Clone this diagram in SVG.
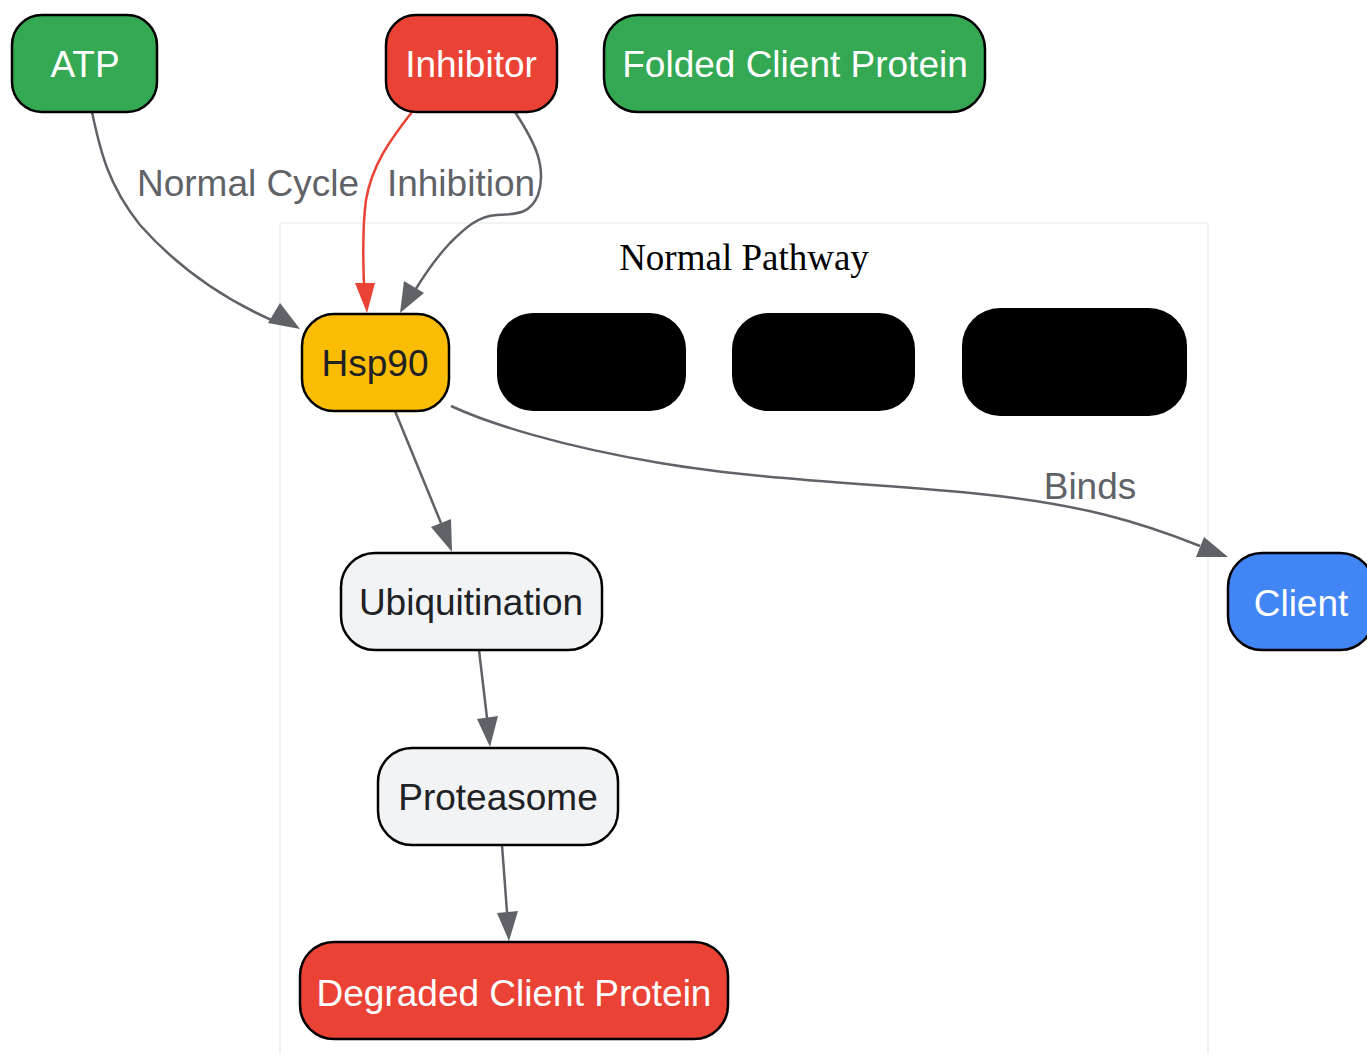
<svg xmlns="http://www.w3.org/2000/svg" width="1367" height="1053" viewBox="0 0 1367 1053">
<style>
.n{stroke:#000;stroke-width:2.5}
.t{font-family:"Liberation Sans",Arial,sans-serif;font-size:37px;text-anchor:middle}
.w{fill:#fff}
.d{fill:#202124}
.e{fill:none;stroke:#5f6368;stroke-width:2.5}
.r{fill:none;stroke:#ea4335;stroke-width:2.5}
.l{font-family:"Liberation Sans",Arial,sans-serif;font-size:37px;fill:#5f6368;text-anchor:middle}
</style>
<defs>
<marker id="ag" viewBox="0 0 10 10" refX="10" refY="5" markerWidth="10" markerHeight="10" markerUnits="userSpaceOnUse" orient="auto"><path d="M0,0L10,5L0,10z" fill="#5f6368"/></marker>
<marker id="ar" viewBox="0 0 10 10" refX="10" refY="5" markerWidth="10" markerHeight="10" markerUnits="userSpaceOnUse" orient="auto"><path d="M0,0L10,5L0,10z" fill="#ea4335"/></marker>
</defs>
<rect width="1367" height="1053" fill="#fff"/>
<g id="cluster">
<rect x="280" y="223" width="928" height="860" fill="#fff" stroke="#eef1f1" stroke-width="1.5"/>
<text x="744" y="270" font-family="'Liberation Serif','Times New Roman',serif" font-size="37" text-anchor="middle" fill="#000">Normal Pathway</text>
</g>
<g id="connectors">
<path class="e" d="M92,112 C100,150 108,185 140,225 C180,270 225,300 276,322"/>
<path d="M300,329 L268,323 L280,303 z" fill="#5f6368"/>
<path class="r" d="M412,112 C390,140 372,165 366,200 C362,230 363,260 364,285"/>
<path d="M367,313 L355,283 L375,283 z" fill="#ea4335"/>
<path class="e" d="M515,112 C532,138 548,165 538,195 C530,215 515,214 497,215 C478,216 465,228 450,243 C436,258 426,272 414,292"/>
<path d="M400,313 L404,281 L424,293 z" fill="#5f6368"/>
<path class="e" d="M395,411 L441,523"/>
<path d="M452,552 L431,527 L451,519 z" fill="#5f6368"/>
<path class="e" d="M479,650 L487,718"/>
<path d="M490,747 L477,719 L498,716 z" fill="#5f6368"/>
<path class="e" d="M502,845 L507,912"/>
<path d="M509,941 L497,913 L518,911 z" fill="#5f6368"/>
<path class="e" d="M451,406 C490,424 560,446 660,463 C760,480 880,484 980,494 C1080,504 1140,522 1200,546"/>
<path d="M1228,557 L1196,557 L1204,537 z" fill="#5f6368"/>
<text class="l" x="248" y="196">Normal Cycle</text>
<text class="l" x="461" y="196">Inhibition</text>
<text class="l" x="1090" y="499">Binds</text>
</g>
<g id="atp"><rect class="n" x="12" y="15" width="145" height="97" rx="30" fill="#34a853"/><text class="t w" x="85" y="77">ATP</text></g>
<g id="inhibitor"><rect class="n" x="386" y="15" width="171" height="97" rx="30" fill="#ea4335"/><text class="t w" x="471" y="77">Inhibitor</text></g>
<g id="folded"><rect class="n" x="604" y="15" width="381" height="97" rx="34" fill="#34a853"/><text class="t w" x="795" y="77">Folded Client Protein</text></g>
<g id="hsp90"><rect class="n" x="302" y="314" width="147" height="97" rx="32" fill="#fbbc04"/><text class="t d" x="375" y="376">Hsp90</text></g>
<g id="b1"><rect x="497" y="313" width="189" height="98" rx="36" fill="#000"/></g>
<g id="b2"><rect x="732" y="313" width="183" height="98" rx="36" fill="#000"/></g>
<g id="b3"><rect x="962" y="308" width="225" height="108" rx="38" fill="#000"/></g>
<g id="ubiq"><rect class="n" x="341" y="553" width="261" height="97" rx="34" fill="#f1f3f4"/><text class="t d" x="471" y="615">Ubiquitination</text></g>
<g id="proteasome"><rect class="n" x="378" y="748" width="240" height="97" rx="34" fill="#f1f3f4"/><text class="t d" x="498" y="810">Proteasome</text></g>
<g id="degraded"><rect class="n" x="300" y="942" width="428" height="97" rx="34" fill="#ea4335"/><text class="t w" x="514" y="1006">Degraded Client Protein</text></g>
<g id="client"><rect class="n" x="1228" y="553" width="146" height="97" rx="34" fill="#4285f4"/><text class="t w" x="1301" y="616">Client</text></g>
</svg>
